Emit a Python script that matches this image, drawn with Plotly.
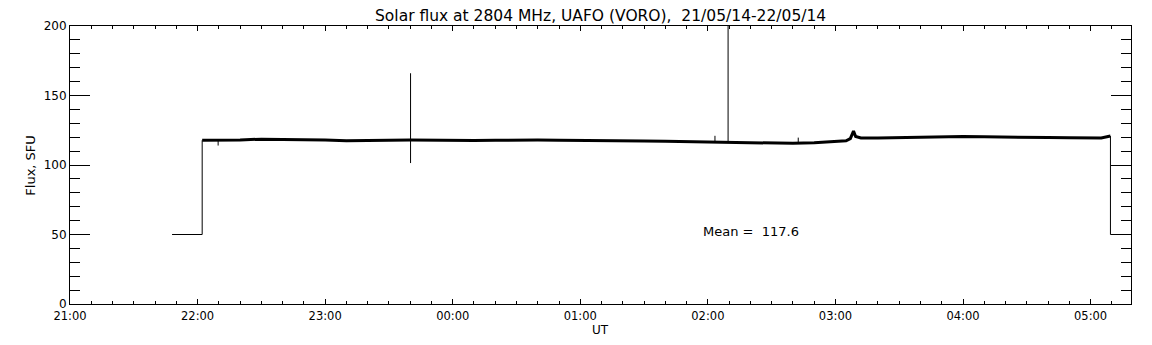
import plotly.graph_objects as go

# ---- data ----
D1 = "2014-05-21 "
D2 = "2014-05-22 "

# steady observation (thick, noisy band)
main_times = [
    D1 + "22:02:10", D1 + "22:05", D1 + "22:10", D1 + "22:20", D1 + "22:30", D1 + "22:40",
    D1 + "22:50", D1 + "23:00", D1 + "23:10", D1 + "23:20", D1 + "23:30", D1 + "23:40",
    D1 + "23:50", D2 + "00:00", D2 + "00:10", D2 + "00:20", D2 + "00:30", D2 + "00:40",
    D2 + "00:50", D2 + "01:00", D2 + "01:10", D2 + "01:20", D2 + "01:30", D2 + "01:40",
    D2 + "01:50", D2 + "02:00", D2 + "02:10", D2 + "02:20", D2 + "02:30", D2 + "02:40",
    D2 + "02:50", D2 + "03:00", D2 + "03:05", D2 + "03:07", D2 + "03:08:30", D2 + "03:09:30",
    D2 + "03:12", D2 + "03:20", D2 + "03:30", D2 + "03:40", D2 + "03:50", D2 + "04:00",
    D2 + "04:10", D2 + "04:20", D2 + "04:30", D2 + "04:40", D2 + "04:50", D2 + "05:00",
    D2 + "05:05", D2 + "05:09:20",
]
main_flux = [
    117.8, 117.8, 117.7, 118.0, 118.6, 118.5,
    118.2, 117.9, 117.5, 117.4, 117.8, 118.0,
    117.8, 118.0, 117.7, 117.8, 117.6, 117.9,
    117.8, 117.8, 117.6, 117.5, 117.3, 117.0,
    116.8, 116.6, 116.2, 115.7, 115.5, 115.6,
    116.0, 116.6, 117.4, 119.0, 124.4, 120.5,
    119.5, 119.5, 119.8, 120.0, 120.2, 120.5,
    120.4, 120.0, 119.6, 119.7, 119.6, 119.5,
    119.4, 120.8,
]

# calibration level before and after the observation
pre_times = [D1 + "21:48", D1 + "22:02:10", D1 + "22:02:10"]
pre_flux = [50, 50, 117.8]
post_times = [D2 + "05:09:20", D2 + "05:09:20", D2 + "05:19"]
post_flux = [120.8, 50, 50]

# short interference spikes: time, start value, end value
spike_times = [D1 + "22:09:40", D1 + "23:40:10", D2 + "02:03:20", D2 + "02:09:30", D2 + "02:42:30"]
spike_from = [117.6, 101.4, 116.6, 116.2, 115.6]
spike_to = [114.0, 166.0, 121.0, 205.0, 119.7]

mean_value = 117.6
title_text = "Solar flux at 2804 MHz, UAFO (VORO),\u00a0\u00a021/05/14-22/05/14"

# ---- build figure ----
FONT = "DejaVu Sans"
fig = go.Figure()

sx, sy = [], []
for t, a, b in zip(spike_times, spike_from, spike_to):
    sx += [t, t, None]
    sy += [a, b, None]

fig.add_trace(go.Scatter(x=pre_times, y=pre_flux, mode="lines",
                         line=dict(color="black", width=1), hoverinfo="skip"))
fig.add_trace(go.Scatter(x=post_times, y=post_flux, mode="lines",
                         line=dict(color="black", width=1), hoverinfo="skip"))
fig.add_trace(go.Scatter(x=sx, y=sy, mode="lines", connectgaps=False,
                         line=dict(color="black", width=1), hoverinfo="skip"))
fig.add_trace(go.Scatter(x=main_times, y=main_flux, mode="lines",
                         line=dict(color="black", width=3), hoverinfo="skip"))

# the page body adds an 8px offset, so the figure is sized to compensate
fig.update_layout(
    width=1144, height=337,
    margin=dict(l=62, r=21, t=11, b=41),
    paper_bgcolor="white", plot_bgcolor="white",
    showlegend=False,
    font=dict(family=FONT, size=12, color="black"),
    xaxis=dict(
        type="date",
        range=[D1 + "21:00", D2 + "05:19"],
        tick0=D1 + "21:00", dtick=3600000, tickformat="%H:%M",
        ticks="inside", ticklen=5, tickwidth=1, tickcolor="black",
        minor=dict(dtick=600000, ticks="inside", ticklen=3, tickcolor="black", tickwidth=1),
        showline=True, linecolor="black", linewidth=1, mirror="ticks",
        showgrid=False, zeroline=False,
        ticklabelstandoff=1,
        tickfont=dict(family=FONT, size=11.5),
    ),
    yaxis=dict(
        range=[0, 200], tick0=0, dtick=50,
        ticks="inside", ticklen=20, tickwidth=1, tickcolor="black",
        minor=dict(dtick=10, ticks="inside", ticklen=10, tickcolor="black", tickwidth=1),
        showline=True, linecolor="black", linewidth=1, mirror="ticks",
        showgrid=False, zeroline=False,
        tickfont=dict(family=FONT, size=12),
    ),
    annotations=[
        dict(text=title_text, xref="paper", yref="paper", x=0.5, y=1.037,
             xanchor="center", yanchor="middle", showarrow=False,
             font=dict(family=FONT, size=15.5)),
        dict(text="UT", xref="paper", yref="paper", x=0.5, y=-0.095,
             xanchor="center", yanchor="middle", showarrow=False,
             font=dict(family=FONT, size=12)),
        dict(text="Flux, SFU", xref="paper", yref="paper", x=-0.038, y=0.5,
             xanchor="center", yanchor="middle", textangle=-90, showarrow=False,
             font=dict(family=FONT, size=13)),
        dict(text="Mean =\u00a0\u00a0" + f"{mean_value:.1f}", xref="paper", yref="paper",
             x=0.5947, y=0.26, xanchor="left", yanchor="middle", showarrow=False,
             font=dict(family=FONT, size=13)),
    ],
)

fig.write_html("out.html")
